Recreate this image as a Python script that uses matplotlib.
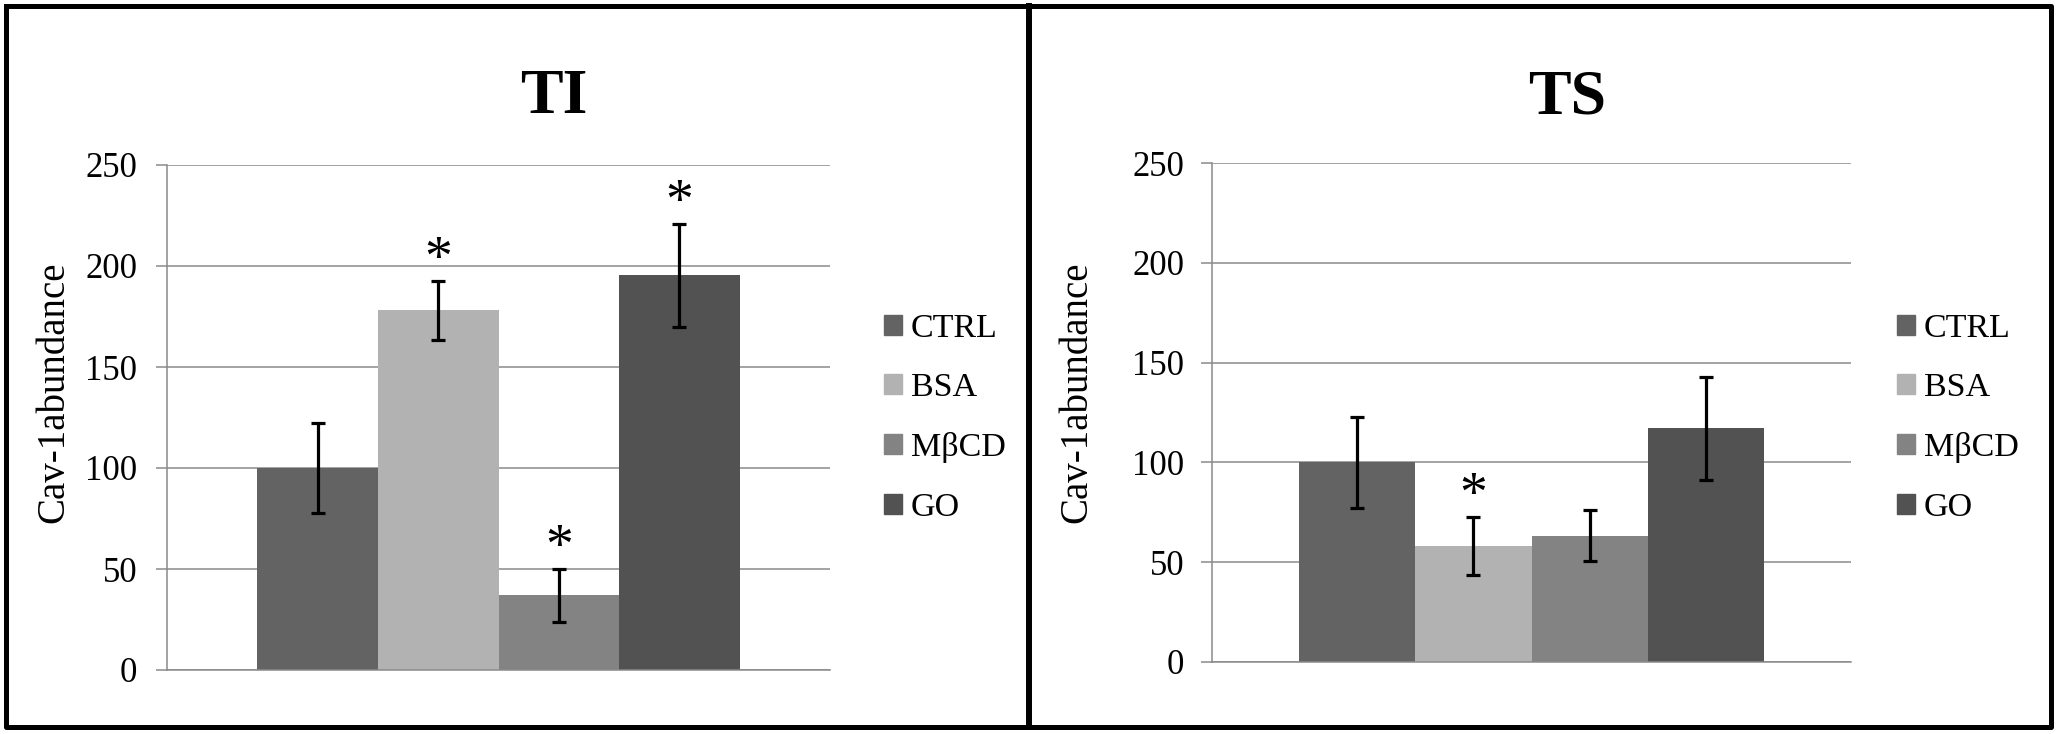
import matplotlib
matplotlib.use("Agg")
import matplotlib.pyplot as plt
from matplotlib.patches import Rectangle
from matplotlib.lines import Line2D
import numpy as np

# data
groups = ["CTRL", "BSA", "M\u03b2CD", "GO"]
colors = ["#636363", "#b2b2b2", "#838383", "#525252"]

ti_values = [100, 178, 37, 195.5]
ti_errors = [22.5, 14.5, 13, 25.5]
ti_stars = [False, True, True, True]

ts_values = [100, 58.2, 63.2, 117]
ts_errors = [22.8, 14.5, 12.8, 25.8]
ts_stars = [False, True, False, False]

yticks = [0, 50, 100, 150, 200, 250]

plt.rcParams['font.family'] = ['Liberation Serif', 'DejaVu Serif']

W, H = 2058, 734
fig = plt.figure(figsize=(W / 100, H / 100), dpi=100)


def fx(px):
    return px / W


def fy(py):
    return 1 - py / H


def panel(rect, values, errors, stars, title, title_x, label_xy, legend_x, pad):
    ax = fig.add_axes(rect)
    x = np.arange(len(values))
    ax.bar(x, values, width=1.0, color=colors, edgecolor="none", zorder=2)
    ax.errorbar(x, values, yerr=errors, fmt="none", ecolor="black",
                elinewidth=2.3, capsize=5, capthick=2.3, zorder=3)
    for xi, v, e, s in zip(x, values, errors, stars):
        if s:
            ax.text(xi, v + e + 3, "*", ha="center", va="baseline",
                    fontsize=40, zorder=4)
    ax.set_xlim(-1.25, 4.25)
    ax.set_ylim(0, 250)
    ax.set_yticks(yticks)
    ax.set_xticks([])
    ax.yaxis.grid(True, color="#8a8a8a", linewidth=1.1, zorder=0)
    ax.set_axisbelow(True)
    for s in ["top", "right"]:
        ax.spines[s].set_visible(False)
    ax.spines["left"].set_color("#8a8a8a")
    ax.spines["left"].set_linewidth(1.1)
    ax.spines["bottom"].set_color("#8a8a8a")
    ax.spines["bottom"].set_linewidth(1.1)
    ax.tick_params(axis="y", direction="out", length=8, width=1.1,
                   color="#8a8a8a", labelsize=25, pad=pad)
    ax.set_ylabel("Cav-1abundance", fontsize=28)
    ax.yaxis.set_label_coords(*label_xy)
    fig.text(title_x, fy(98), title, ha="center", va="center",
             fontsize=46, fontweight="bold")
    handles = [Rectangle((0, 0), 1, 1, color=c) for c in colors]
    ax.legend(handles, groups, loc="center left", frameon=False,
              bbox_to_anchor=(legend_x, fy(418)), bbox_transform=fig.transFigure,
              fontsize=24.5, handlelength=0.53, handleheight=0.53,
              handletextpad=0.25, labelspacing=0.85, borderpad=0,
              borderaxespad=0)
    return ax


panel([fx(167), fy(670), fx(830 - 167), (670 - 165) / H],
      ti_values, ti_errors, ti_stars, "TI", fx(554), (-0.143, 0.55), fx(884), 13.5)
panel([fx(1212), fy(662), fx(1851 - 1212), (662 - 163) / H],
      ts_values, ts_errors, ts_stars, "TS", fx(1567), (-0.183, 0.54), fx(1897), 12)

# panel frames
lw = 3.6
fig.add_artist(Line2D([fx(5.5), fx(2051), fx(2051), fx(5.5), fx(5.5)],
                      [fy(5.5), fy(5.5), fy(726.5), fy(726.5), fy(5.5)],
                      color="black", linewidth=lw, transform=fig.transFigure))
fig.add_artist(Line2D([fx(1029), fx(1029)], [fy(5.5), fy(726.5)],
                      color="black", linewidth=4.3, transform=fig.transFigure))

fig.savefig("out.png", dpi=100)
